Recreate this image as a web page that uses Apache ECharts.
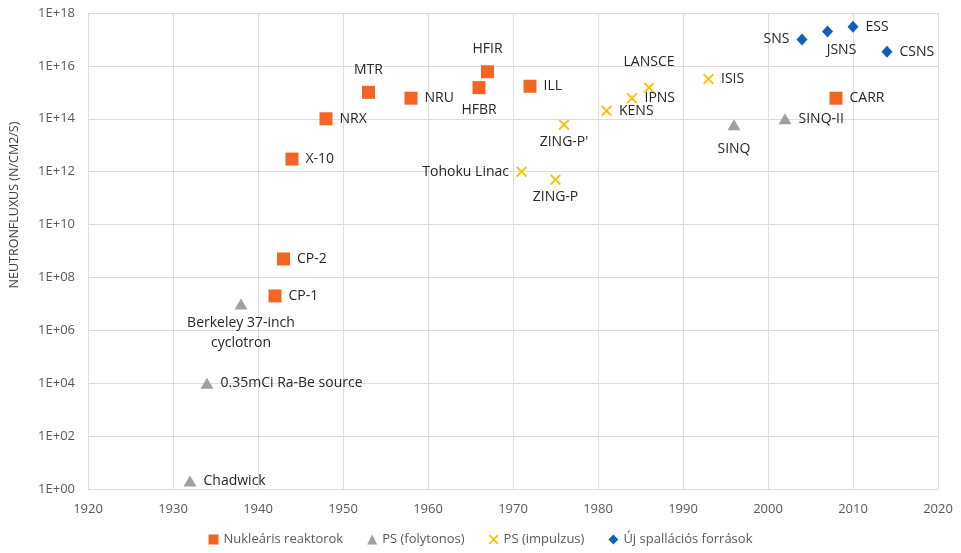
<!DOCTYPE html>
<html>
<head>
<meta charset="utf-8">
<script src="https://cdn.jsdelivr.net/npm/echarts@6/dist/echarts.min.js"></script>
<style>html,body{margin:0;padding:0;background:#fff}#c{width:961px;height:553px}</style>
</head>
<body>
<div id="c"></div>
<script>
// ---- data ----
const reactorNames = ['CP-1','CP-2','X-10','NRX','MTR','NRU','HFBR','HFIR','ILL','CARR'];
const reactorYears = [1942,1943,1944,1948,1953,1958,1966,1967,1972,2008];
const reactorFlux  = [2e7,5e8,3e12,1e14,1e15,6e14,1.5e15,6e15,1.7e15,6e14];

const contNames = ['Chadwick','0.35mCi Ra-Be source','Berkeley 37-inch\ncyclotron','SINQ','SINQ-II'];
const contYears = [1932,1934,1938,1996,2002];
const contFlux  = [2,1e4,1e7,6e13,1e14];

const pulseNames = ['Tohoku Linac','ZING-P','ZING-P\'','KENS','IPNS','LANSCE','ISIS'];
const pulseYears = [1971,1975,1976,1981,1984,1986,1993];
const pulseFlux  = [1e12,5e11,6e13,2e14,6e14,1.5e15,3.2e15];

const spallNames = ['SNS','JSNS','ESS','CSNS'];
const spallYears = [2004,2007,2010,2014];
const spallFlux  = [1e17,2e17,3e17,3.4e16];

const seriesNames = ['Nukleáris reaktorok','PS (folytonos)','PS (impulzus)','Új spallációs források'];
const yTickExponents = [0,2,4,6,8,10,12,14,16,18];

// ---- label placement (style only) ----
const labelPlace = {
  'MTR':'top','HFIR':'top','HFBR':'bottom','ZING-P\'':'bottom','ZING-P':'bottom',
  'Tohoku Linac':'left','LANSCE':'top','SNS':'left','JSNS':'bottom','SINQ':'bottom',
  'Berkeley 37-inch\ncyclotron':'bottom'
};

const labelStyle = {show:true, color:'#262626', fontSize:14, fontFamily:'Open Sans', formatter:p=>p.name};

function pts(names, years, flux){
  return names.map((n,i)=>{
    const pos = labelPlace[n] || 'right';
    const o = {name:n, value:[years[i], flux[i]], label:{position:pos, distance: pos==='top'||pos==='bottom'?9:7}};
    if(n==='JSNS'){ o.label.offset=[14,-3]; }
    if(n==='LANSCE'){ o.label.distance=13; }
    if(n==='ZING-P' || n==='ZING-P\''){ o.label.distance=5; }
    if(n==='SINQ'){ o.label.distance=12; }
    if(n==='Berkeley 37-inch\ncyclotron'){ o.label.lineHeight=20; o.label.distance=4; }
    return o;
  });
}

const xPath = 'path://M0,1.2 L1.2,0 L5,3.8 L8.8,0 L10,1.2 L6.2,5 L10,8.8 L8.8,10 L5,6.2 L1.2,10 L0,8.8 L3.8,5 Z';

const chart = echarts.init(document.getElementById('c'), null, {renderer:'canvas'});
chart.setOption({
  animation:false,
  textStyle:{fontFamily:'Open Sans'},
  grid:{left:83, right:23, top:13, bottom:64, containLabel:false},
  xAxis:{type:'value', min:1920, max:2020, interval:10,
    axisLine:{show:false}, axisTick:{show:false},
    axisLabel:{color:'#595959', fontSize:13, margin:14, formatter:v=>String(v)},
    splitLine:{show:true, lineStyle:{color:'#d6dee3', width:1}}},
  yAxis:{type:'log', logBase:10, min:1, max:1e18, interval:2, splitNumber:9,
    name:'NEUTRONFLUXUS (N/CM2/S)', nameLocation:'middle', nameGap:67, nameRotate:90,
    nameTextStyle:{color:'#404040', fontSize:12.5, padding:[0,0,0,92]},
    axisLine:{show:false}, axisTick:{show:false},
    axisLabel:{color:'#595959', fontSize:13, margin:13,
      formatter:v=>{const e=Math.round(Math.log10(v)); return '1E+'+(e<10?'0':'')+e;}},
    splitLine:{show:true, lineStyle:{color:'#d6dee3', width:1}}},
  legend:{bottom:2, left:'center', itemGap:24, itemWidth:10, itemHeight:10,
    textStyle:{color:'#595959', fontSize:13},
    data:[
      {name:seriesNames[0], icon:'rect'},
      {name:seriesNames[1], icon:'triangle'},
      {name:seriesNames[2], icon:xPath},
      {name:seriesNames[3], icon:'diamond'}]},
  series:[
    {name:seriesNames[0], type:'scatter', symbol:'rect', symbolSize:13,
     itemStyle:{color:'#f26522', opacity:1}, label:labelStyle, data:pts(reactorNames,reactorYears,reactorFlux)},
    {name:seriesNames[1], type:'scatter', symbol:'triangle', symbolSize:[13,11],
     itemStyle:{color:'#a0a0a0', opacity:1}, label:labelStyle, data:pts(contNames,contYears,contFlux)},
    {name:seriesNames[2], type:'scatter', symbol:xPath, symbolSize:11,
     itemStyle:{color:'#ffc000', opacity:1}, label:labelStyle, data:pts(pulseNames,pulseYears,pulseFlux)},
    {name:seriesNames[3], type:'scatter', symbol:'diamond', symbolSize:[11,12],
     itemStyle:{color:'#1060b8', opacity:1}, label:labelStyle, data:pts(spallNames,spallYears,spallFlux)}
  ]
});
</script>
</body>
</html>
